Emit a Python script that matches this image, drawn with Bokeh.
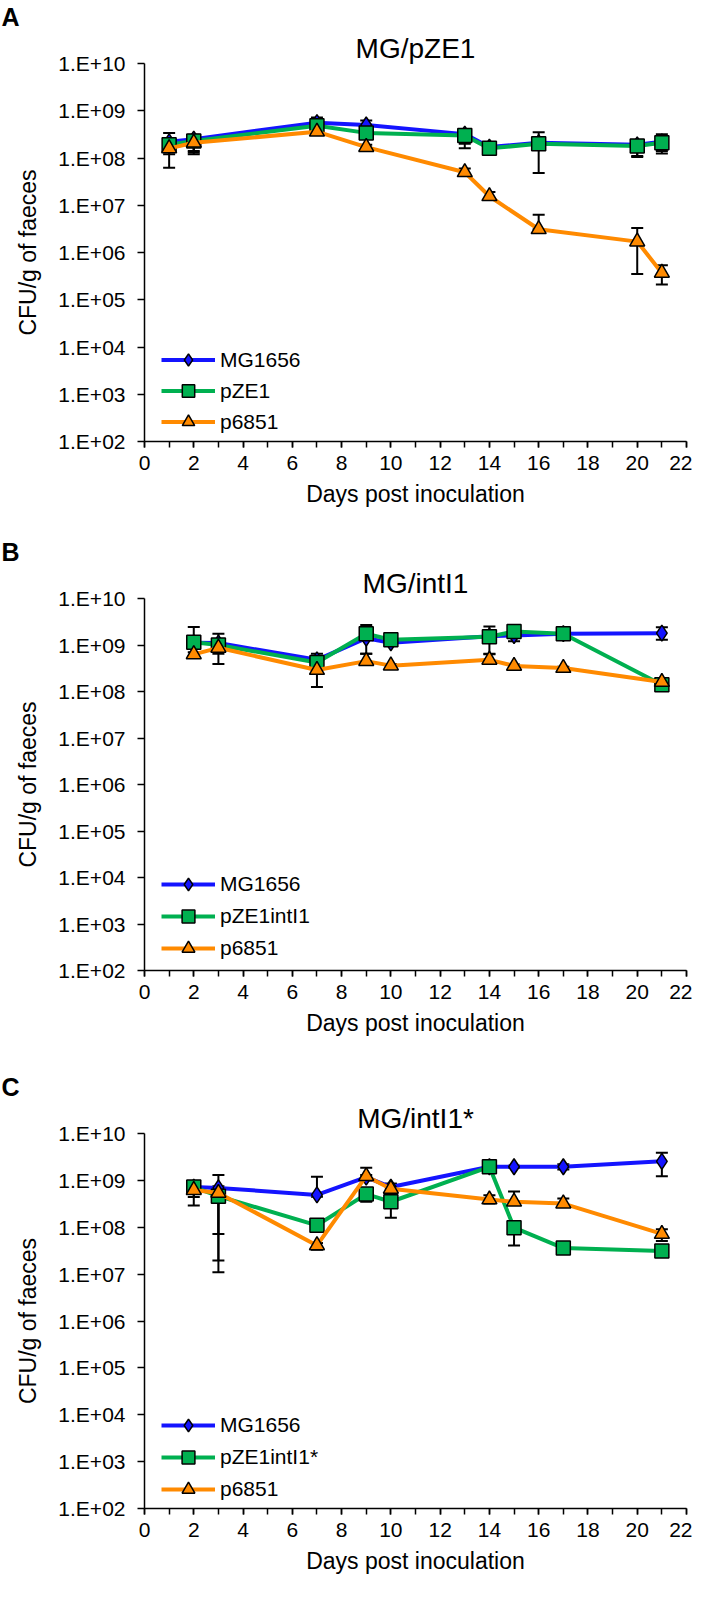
from bokeh.plotting import figure
from bokeh.models import (Range1d, FixedTicker, CustomJSTickFormatter, Whisker, TeeHead,
                          ColumnDataSource, Legend, LegendItem, Title)
from bokeh.layouts import column
from bokeh.embed import file_html
from bokeh.resources import INLINE

# ---------------- data ----------------
SERIES_A = ["MG1656", "pZE1", "p6851"]
SERIES_B = ["MG1656", "pZE1intI1", "p6851"]
SERIES_C = ["MG1656", "pZE1intI1*", "p6851"]
TITLES = ["MG/pZE1", "MG/intI1", "MG/intI1*"]
LETTERS = ["A", "B", "C"]
X_TITLE = "Days post inoculation"
Y_TITLE = "CFU/g of faeces"
X_TICKS = [0, 2, 4, 6, 8, 10, 12, 14, 16, 18, 20, 22]
X_MINOR = list(range(0, 23))
Y_TICKS = [1e2, 1e3, 1e4, 1e5, 1e6, 1e7, 1e8, 1e9, 1e10]

A_DAYS = [1, 2, 7, 9, 13, 14, 16, 20, 21]
A_MG = [2.2e8, 2.5e8, 5.6e8, 5.0e8, 3.2e8, 1.7e8, 2.1e8, 1.9e8, 2.2e8]
A_MG_HI = [3.4e8, 3.1e8, 7.2e8, 6.2e8, 4.0e8, 1.9e8, 2.4e8, 2.3e8, 3.2e8]
A_MG_LO = [1.4e8, 1.4e8, 4.6e8, 4.2e8, 2.0e8, 1.5e8, 1.8e8, 1.1e8, 1.25e8]
A_PZ = [1.9e8, 2.3e8, 4.8e8, 3.4e8, 3.0e8, 1.6e8, 2.0e8, 1.8e8, 2.1e8]
A_PZ_HI = [2.4e8, 2.8e8, 5.5e8, 3.9e8, 3.5e8, 1.8e8, 3.5e8, 2.2e8, 2.8e8]
A_PZ_LO = [1.2e8, 1.2e8, 4.2e8, 3.0e8, 1.6e8, 1.4e8, 4.8e7, 1.05e8, 1.4e8]
A_P68 = [1.6e8, 2.1e8, 3.6e8, 1.7e8, 5.0e7, 1.55e7, 3.1e6, 1.7e6, 3.7e5]
A_P68_HI = [2.0e8, 2.5e8, 4.0e8, 1.9e8, 6.0e7, 1.9e7, 6.3e6, 3.3e6, 5.4e5]
A_P68_LO = [6.2e7, 1.3e8, 3.2e8, 1.5e8, 4.2e7, 1.3e7, 3.1e6, 3.5e5, 2.1e5]

B_DAYS = [2, 3, 7, 9, 10, 14, 15, 17, 21]
B_MG = [1.12e9, 1.1e9, 4.8e8, 1.4e9, 1.12e9, 1.55e9, 1.6e9, 1.75e9, 1.8e9]
B_MG_HI = [1.3e9, 1.75e9, 6.5e8, 1.6e9, 1.25e9, 1.7e9, 2.2e9, 1.9e9, 2.4e9]
B_MG_LO = [1.0e9, 6.5e8, 4.2e8, 6.5e8, 1.0e9, 1.4e9, 1.2e9, 1.6e9, 1.3e9]
B_PZ = [1.15e9, 1.0e9, 4.2e8, 1.75e9, 1.3e9, 1.5e9, 1.95e9, 1.75e9, 1.4e8]
B_PZ_HI = [2.45e9, 1.2e9, 4.8e8, 2.7e9, 1.4e9, 2.5e9, 2.1e9, 1.9e9, 1.5e8]
B_PZ_LO = [1.0e9, 8.5e8, 3.6e8, 1.5e9, 1.2e9, 6.3e8, 1.8e9, 1.6e9, 1.25e8]
B_P68 = [6.3e8, 8.7e8, 2.9e8, 4.5e8, 3.6e8, 4.8e8, 3.55e8, 3.2e8, 1.6e8]
B_P68_HI = [7.0e8, 1.2e9, 3.3e8, 6.5e8, 3.9e8, 6.5e8, 3.8e8, 3.4e8, 1.7e8]
B_P68_LO = [5.8e8, 3.9e8, 1.25e8, 4.0e8, 3.3e8, 4.2e8, 3.3e8, 3.0e8, 1.5e8]

C_DAYS = [2, 3, 7, 9, 10, 14, 15, 17, 21]
C_MG = [7.2e8, 6.9e8, 4.9e8, 1.17e9, 7.2e8, 1.95e9, 1.95e9, 1.95e9, 2.55e9]
C_MG_HI = [7.8e8, 1.3e9, 1.2e9, 1.3e9, 8.5e8, 2.1e9, 2.05e9, 2.2e9, 3.9e9]
C_MG_LO = [6.6e8, 7.2e7, 4.5e8, 1.05e9, 6.6e8, 1.8e9, 1.85e9, 1.7e9, 1.23e9]
C_PZ = [7.2e8, 4.6e8, 1.1e8, 5.1e8, 3.5e8, 1.95e9, 9.8e7, 3.6e7, 3.1e7]
C_PZ_HI = [9.1e8, 7.5e8, 1.35e8, 6.5e8, 4.5e8, 2.1e9, 1.2e8, 3.9e7, 3.6e7]
C_PZ_LO = [2.9e8, 1.1e7, 8.5e7, 3.5e8, 1.6e8, 1.6e9, 4.1e7, 3.3e7, 2.6e7]
C_P68 = [6.2e8, 5.4e8, 4.1e7, 1.23e9, 6.6e8, 3.9e8, 3.5e8, 3.2e8, 7.2e7]
C_P68_HI = [7.0e8, 6.0e8, 4.6e7, 1.85e9, 8.5e8, 4.8e8, 5.8e8, 4.1e8, 9.1e7]
C_P68_LO = [4.4e8, 1.95e7, 3.3e7, 1.0e9, 5.8e8, 3.2e8, 3.2e8, 2.7e8, 5.1e7]

# ---------------- style ----------------
FONT = "Liberation Sans"
COLORS = ["#1414ff", "#00b050", "#ff8a00"]
MARKERS = ["diamond", "square", "triangle"]
MSIZES = [16, 14, 15]
FIG_W = 692
LEFT, RIGHT = 144, 6


def make_panel(letter, title, names, days, vals, his, los,
               fig_h, top, frame_h, leg_y, leg_h):
    bottom = fig_h - top - frame_h
    p = figure(width=FIG_W, height=fig_h, x_range=Range1d(0, 22),
               y_range=Range1d(1e2, 1e10), y_axis_type="log",
               output_backend="svg", toolbar_location=None,
               min_border_left=LEFT, min_border_right=RIGHT,
               min_border_top=top, min_border_bottom=bottom,
               outline_line_color=None, background_fill_color="white")
    p.xgrid.visible = False
    p.ygrid.visible = False

    xa = p.xaxis[0]
    xa.ticker = FixedTicker(ticks=X_TICKS, minor_ticks=X_MINOR)
    xa.major_tick_out = 6
    xa.major_tick_in = 0
    xa.minor_tick_out = 6
    xa.minor_tick_in = 0
    xa.axis_label = X_TITLE
    xa.axis_label_standoff = 8
    ya = p.yaxis[0]
    ya.ticker = FixedTicker(ticks=Y_TICKS)
    ya.minor_tick_line_color = None
    ya.major_tick_out = 7
    ya.major_tick_in = 0
    ya.formatter = CustomJSTickFormatter(code="""
        const e = Math.round(Math.log10(tick));
        return "1.E+" + (e < 10 ? "0" + e : "" + e);
    """)
    ya.axis_label = Y_TITLE
    ya.axis_label_standoff = 14
    for ax, st in ((xa, 8), (ya, 12)):
        ax.axis_label_text_font = FONT
        ax.axis_label_text_font_size = "23px"
        ax.axis_label_text_font_style = "normal"
        ax.axis_label_text_color = "black"
        ax.axis_line_width = 1.5
        ax.axis_line_color = "black"
        ax.major_tick_line_width = 1.5
        ax.minor_tick_line_width = 1.5
        ax.major_tick_line_color = "black"
        ax.major_label_text_font = FONT
        ax.major_label_text_font_size = "21px"
        ax.major_label_text_color = "black"
        ax.major_label_standoff = st
    xa.minor_tick_line_color = "black"

    items = []
    for i in range(3):
        src = ColumnDataSource(dict(x=days, lo=los[i], hi=his[i]))
        w = Whisker(source=src, base="x", upper="hi", lower="lo",
                    line_color="black", line_width=2,
                    upper_head=TeeHead(size=12, line_width=2, line_color="black"),
                    lower_head=TeeHead(size=12, line_width=2, line_color="black"))
        w.level = "underlay"
        p.add_layout(w)
    for i in range(3):
        lr = p.line(days, vals[i], line_color=COLORS[i], line_width=4)
        sr = p.scatter(days, vals[i], marker=MARKERS[i], size=MSIZES[i],
                       fill_color=COLORS[i], line_color="black", line_width=1.5)
        items.append(LegendItem(label=names[i], renderers=[lr, sr]))

    leg = Legend(items=items, location=(17, leg_y), padding=0, margin=0, spacing=0,
                 glyph_width=54, glyph_height=leg_h, label_height=leg_h,
                 label_standoff=5, label_text_font=FONT, label_text_font_size="21px",
                 label_text_color="black", border_line_color=None,
                 background_fill_alpha=0)
    p.add_layout(leg)

    # panel title (nearest the frame), then the panel letter above it
    p.add_layout(Title(text=title, align="center", standoff=0,
                       text_font=FONT, text_font_size="28px",
                       text_font_style="normal", text_color="black"), "above")
    p.add_layout(Title(text=letter, align="left", offset=-LEFT + 1, standoff=0,
                       text_font=FONT, text_font_size="25px",
                       text_font_style="bold", text_color="black"), "above")
    return p


pA = make_panel(LETTERS[0], TITLES[0], SERIES_A, A_DAYS,
                [A_MG, A_PZ, A_P68], [A_MG_HI, A_PZ_HI, A_P68_HI],
                [A_MG_LO, A_PZ_LO, A_P68_LO],
                fig_h=516, top=61, frame_h=380, leg_y=4, leg_h=31)
pB = make_panel(LETTERS[1], TITLES[1], SERIES_B, B_DAYS,
                [B_MG, B_PZ, B_P68], [B_MG_HI, B_PZ_HI, B_P68_HI],
                [B_MG_LO, B_PZ_LO, B_P68_LO],
                fig_h=529, top=82, frame_h=372, leg_y=6, leg_h=32)
pC = make_panel(LETTERS[2], TITLES[2], SERIES_C, C_DAYS,
                [C_MG, C_PZ, C_P68], [C_MG_HI, C_PZ_HI, C_P68_HI],
                [C_MG_LO, C_PZ_LO, C_P68_LO],
                fig_h=537, top=88, frame_h=375, leg_y=3, leg_h=32)

layout = column(pA, pB, pC, spacing=0)
open("out.html", "w").write(file_html(layout, INLINE))
